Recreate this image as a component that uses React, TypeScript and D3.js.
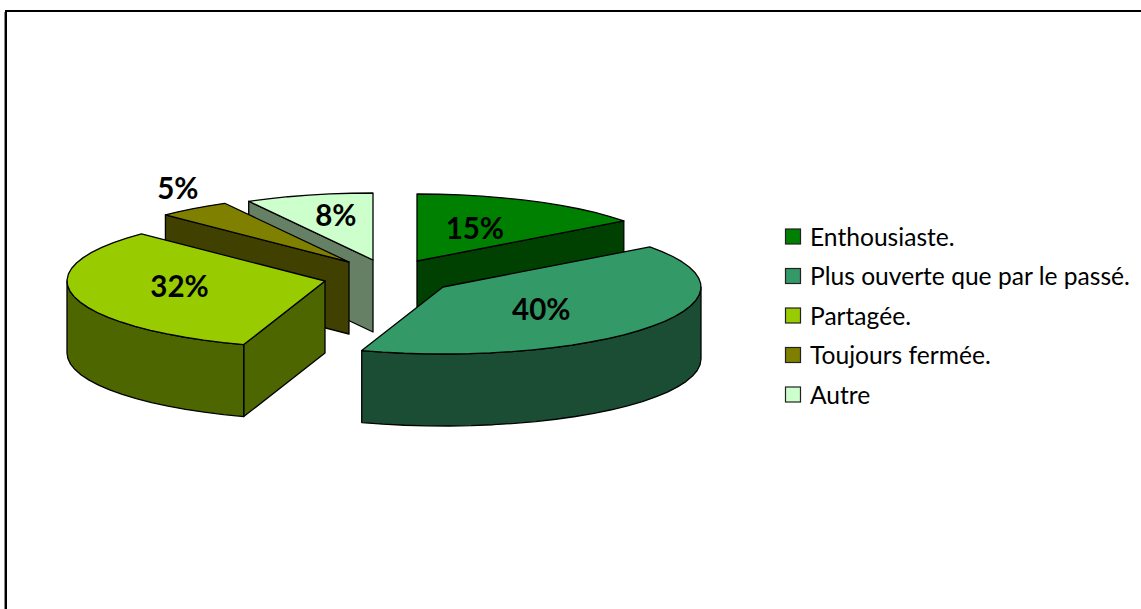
import React from "react";
import * as d3 from "d3";

// ---- data ----
const categories = ["Enthousiaste.", "Plus ouverte que par le passé.", "Partagée.", "Toujours fermée.", "Autre"];
const percents = [14.8, 40.3, 32.3, 4.6, 8];

// ---- style & layout ----
const topColors = ["#008000", "#339966", "#99CC00", "#808000", "#CCFFCC"];
const sideColors = ["#004000", "#1A4D33", "#4D6600", "#404000", "#668066"];
const centre = { x: 384, y: 277 };
const explodeX = [33, 59, -59, -35, -11];
const explodeY = [-16, 10, 4, -15, -17];
const labelFx = [0.5, 0.47, 0.58, 1.1, 0.58];
const labelFy = [0.55, 0.58, 0.36, 1.38, 0.68];
const paintOrder = [4, 3, 0, 2, 1];
const W = 1141, H = 609;
const RX = 258, RY = 67, DEPTH = 72;
const STEP = (5 * Math.PI) / 180;
const FONT = "Lato, Carlito, Calibri, sans-serif";

const rimX = d3.scaleLinear().domain([-1, 1]).range([-RX, RX]);
const rimY = d3.scaleLinear().domain([-1, 1]).range([-RY, RY]);
const line = d3.line<[number, number]>().x((d) => d[0]).y((d) => d[1]);
const fmtPct = d3.format(".0f");

type P = [number, number];

function rim(a0: number, a1: number): number[] {
  const n = Math.max(1, Math.ceil((a1 - a0) / STEP));
  return d3.range(n + 1).map((i) => a0 + ((a1 - a0) * i) / n);
}

export default function App() {
  const arcs = d3.pie<number>().sort(null).value((d) => d)(percents);

  const slices = arcs.map((a, i) => {
    const ax = centre.x + explodeX[i];
    const ay = centre.y + explodeY[i];
    const pt = (t: number, dy = 0): P => [ax + rimX(Math.sin(t)), ay + rimY(-Math.cos(t)) + dy];
    const { startAngle: s, endAngle: e } = a;
    const top: P[] = [[ax, ay], ...rim(s, e).map((t) => pt(t))];

    const walls: P[][] = [];
    const radialWall = (t: number) => {
      const q = pt(t);
      walls.push([[ax, ay], q, [q[0], q[1] + DEPTH], [ax, ay + DEPTH]]);
    };
    if (Math.sin(s) < -1e-6) radialWall(s);
    if (Math.sin(e) > 1e-6) radialWall(e);
    const w0 = Math.max(s, Math.PI / 2);
    const w1 = Math.min(e, (3 * Math.PI) / 2);
    if (w1 > w0) {
      const ts = rim(w0, w1);
      walls.push([...ts.map((t) => pt(t)), ...ts.slice().reverse().map((t) => pt(t, DEPTH))]);
    }

    const mid = (s + e) / 2;
    const label: P = [
      ax + labelFx[i] * rimX(Math.sin(mid)),
      ay + labelFy[i] * rimY(-Math.cos(mid)),
    ];
    return { i, top, walls, label };
  });

  const legendY = d3.scalePoint<string>().domain(categories).range([236.5, 394.5]);

  return (
    <svg
      width={W}
      height={H}
      viewBox={`0 0 ${W} ${H}`}
      style={{ position: "fixed", left: 0, top: 0, display: "block", background: "#fff" }}
    >
      <path d={`M6,${H + 5}V11H${W + 5}`} fill="none" stroke="#000" strokeWidth={2} />
      <line x1={4.5} y1={12} x2={4.5} y2={H} stroke="#888" strokeWidth={1} />

      {paintOrder.map((k) => {
        const sl = slices[k];
        return (
          <g key={k} stroke="#000" strokeWidth={1.3} strokeLinejoin="round">
            {sl.walls.map((w, j) => (
              <path key={j} d={line(w) + "Z"} fill={sideColors[k]} />
            ))}
            <path d={line(sl.top) + "Z"} fill={topColors[k]} />
          </g>
        );
      })}

      {slices.map((sl) => (
        <text
          key={sl.i}
          x={sl.label[0]}
          y={sl.label[1]}
          dy="0.36em"
          textAnchor="middle"
          fontFamily={FONT}
          fontWeight={700}
          fontSize={29.5}
          fill="#000"
        >
          {fmtPct(percents[sl.i])}%
        </text>
      ))}

      {categories.map((c, i) => (
        <g key={c}>
          <rect
            x={785.5}
            y={legendY(c)! - 7.5}
            width={15}
            height={15}
            fill={topColors[i]}
            stroke="#222"
            strokeWidth={1.2}
          />
          <text x={810} y={legendY(c)! + 9} fontFamily={FONT} fontSize={24.6} fill="#000">
            {c}
          </text>
        </g>
      ))}
    </svg>
  );
}
